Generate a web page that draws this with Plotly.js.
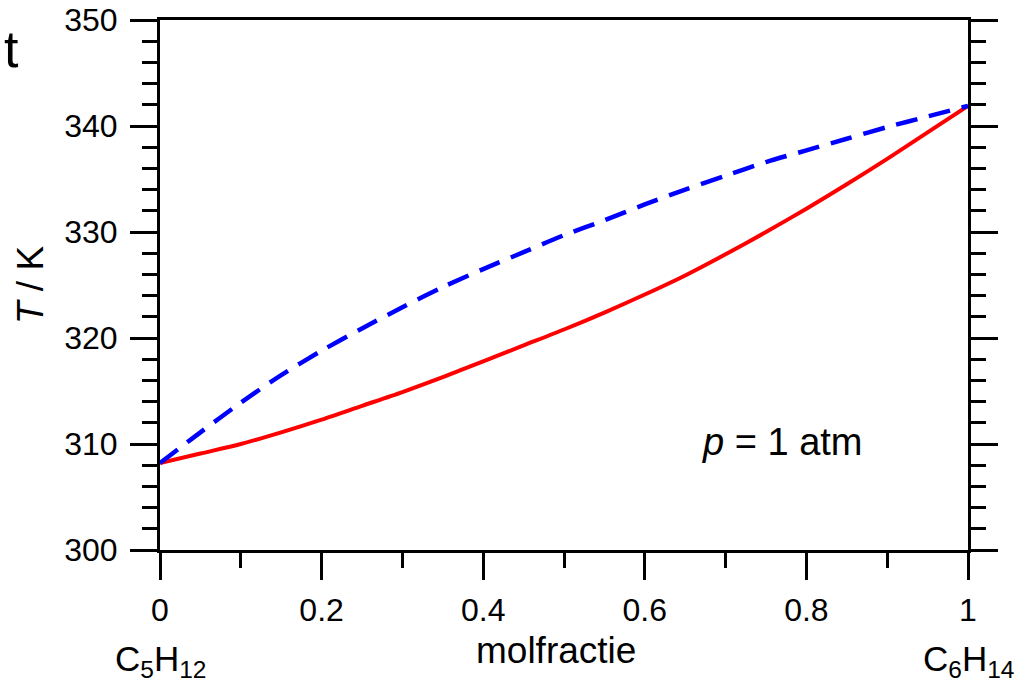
<!DOCTYPE html>
<html>
<head>
<meta charset="utf-8">
<script src="https://cdn.plot.ly/plotly-3.0.1.min.js"></script>
<style>html,body{margin:0;padding:0;background:#fff;}</style>
</head>
<body>
<div id="chart" style="width:1025px;height:688px;"></div>
<script>
// mole fraction of hexane
const molfractie = [0, 0.05, 0.1, 0.15, 0.2, 0.25, 0.3, 0.35, 0.4, 0.45, 0.5, 0.55, 0.6, 0.65, 0.7, 0.75, 0.8, 0.85, 0.9, 0.95, 1];
// boiling (liquid) curve, T / K
const tLiquid = [308.2, 309.1, 310.0, 311.1, 312.3, 313.6, 314.9, 316.3, 317.8, 319.3, 320.8, 322.4, 324.1, 325.9, 327.9, 330.0, 332.2, 334.5, 336.9, 339.4, 341.9];
// dew (vapour) curve, T / K
const tVapour = [308.2, 311.1, 313.9, 316.5, 318.8, 320.9, 322.9, 324.8, 326.5, 328.1, 329.7, 331.1, 332.6, 334.0, 335.3, 336.6, 337.7, 338.8, 339.9, 340.9, 341.9];
const xTickVals = [0, 0.2, 0.4, 0.6, 0.8, 1];
const xTickText = ['0', '0.2', '0.4', '0.6', '0.8', '1'];
const yTickVals = [300, 310, 320, 330, 340, 350];

const FONT = 'Liberation Sans, Arial, sans-serif';

const traces = [
  {x: molfractie, y: tLiquid, mode: 'lines', line: {color: '#ff0000', width: 4, shape: 'spline', smoothing: 0.8}, hoverinfo: 'skip'},
  {x: molfractie, y: tVapour, mode: 'lines', line: {color: '#0000ff', width: 4.5, dash: '22px,12px', shape: 'spline', smoothing: 0.8}, hoverinfo: 'skip'}
];

const layout = {
  width: 1025, height: 688,
  margin: {l: 160, r: 57, t: 20, b: 138},
  paper_bgcolor: '#fff', plot_bgcolor: '#fff',
  showlegend: false,
  font: {family: FONT, color: '#000', size: 32},
  xaxis: {
    range: [0, 1], tickvals: xTickVals, ticktext: xTickText,
    ticks: 'outside', ticklen: 27, tickwidth: 3, tickcolor: '#000',
    minor: {dtick: 0.1, ticks: 'outside', ticklen: 15, tickwidth: 3, tickcolor: '#000'},
    showline: true, linewidth: 3, linecolor: '#000', mirror: true,
    showgrid: false, zeroline: false,
    tickfont: {size: 32, family: FONT},
    ticklabelstandoff: 3
  },
  yaxis: {
    range: [300, 350], tickvals: yTickVals,
    ticks: 'outside', ticklen: 27, tickwidth: 3, tickcolor: '#000',
    minor: {dtick: 2, ticks: 'outside', ticklen: 15, tickwidth: 3, tickcolor: '#000'},
    showline: true, linewidth: 3, linecolor: '#000', mirror: 'ticks',
    showgrid: false, zeroline: false,
    tickfont: {size: 32, family: FONT},
    ticklabelstandoff: 6,
    title: {text: '<i>T</i> / K', font: {size: 37, family: FONT}, standoff: 10}
  },
  annotations: [
    {xref: 'paper', yref: 'paper', x: 0.49, y: -0.19, text: 'molfractie', showarrow: false, xanchor: 'center', yanchor: 'middle', font: {size: 37, family: FONT}},
    {xref: 'x', yref: 'paper', x: 0, y: -0.21, text: 'C<sub>5</sub>H<sub>12</sub>', showarrow: false, xanchor: 'center', yanchor: 'middle', font: {size: 35, family: FONT}},
    {xref: 'x', yref: 'paper', x: 1, y: -0.21, text: 'C<sub>6</sub>H<sub>14</sub>', showarrow: false, xanchor: 'center', yanchor: 'middle', font: {size: 35, family: FONT}},
    {xref: 'x', yref: 'y', x: 0.77, y: 310.2, text: '<i>p</i> = 1 atm', showarrow: false, xanchor: 'center', yanchor: 'middle', font: {size: 38, family: FONT}},
    {xref: 'paper', yref: 'paper', x: -0.195, y: 0.945, text: 't', showarrow: false, xanchor: 'left', yanchor: 'middle', font: {size: 52, family: FONT}}
  ]
};

Plotly.newPlot('chart', traces, layout, {staticPlot: true, displayModeBar: false});
</script>
</body>
</html>
